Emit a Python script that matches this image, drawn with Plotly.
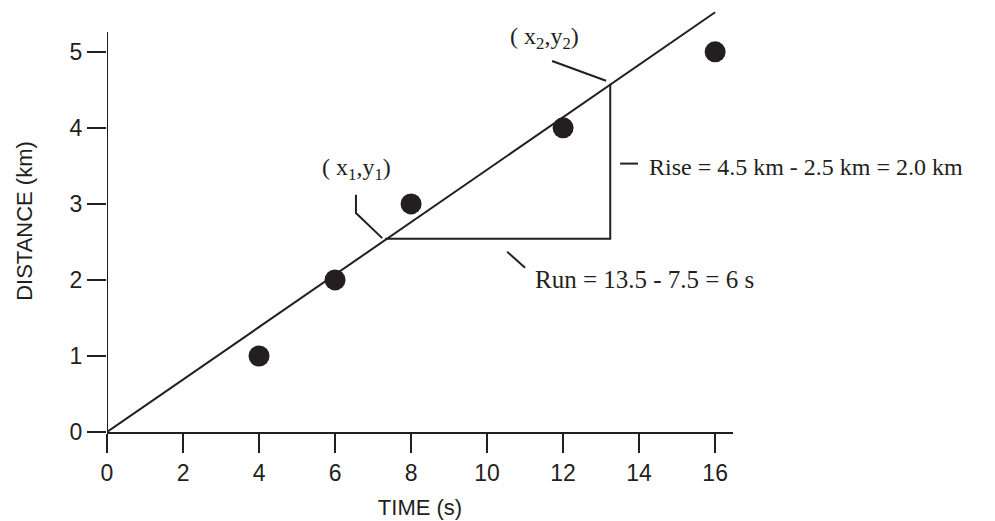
import plotly.graph_objects as go

# Data points
time_s = [4, 6, 8, 12, 16]
distance_km = [1, 2, 3, 4, 5]

# Best-fit line
fit_x = [0, 16]
fit_y = [0, 5.52]

# Rise / run triangle corners
x1, y1 = 7.32, 2.54
x2, y2 = 13.24, 4.58

x_ticks = [0, 2, 4, 6, 8, 10, 12, 14, 16]
y_ticks = [0, 1, 2, 3, 4, 5]

INK = "#231f20"
SANS = "Liberation Sans, Arial, sans-serif"
SERIF = "Liberation Serif, Times New Roman, serif"

Y_AXIS_TOP = 5.26

fig = go.Figure()
fig.add_trace(go.Scatter(x=fit_x, y=fit_y, mode="lines",
                         line=dict(color=INK, width=2), cliponaxis=False,
                         showlegend=False, hoverinfo="skip"))
fig.add_trace(go.Scatter(x=[x1, x2, x2], y=[y1, y1, y2], mode="lines",
                         line=dict(color=INK, width=2), cliponaxis=False,
                         showlegend=False, hoverinfo="skip"))
fig.add_trace(go.Scatter(x=time_s, y=distance_km, mode="markers",
                         marker=dict(color=INK, size=21), cliponaxis=False,
                         showlegend=False))

line_style = dict(color=INK, width=2)
# y axis line (shorter than the plotting range)
fig.add_shape(type="line", xref="x", yref="y", x0=0, x1=0, y0=0, y1=Y_AXIS_TOP,
              line=line_style)
# leader for (x1,y1)
fig.add_shape(type="path", xref="x", yref="y",
              path=f"M {x1-0.77},{y1+0.58} L {x1-0.77},{y1+0.34} L {x1-0.08},{y1+0.01}",
              line=line_style)
# leader for (x2,y2)
fig.add_shape(type="line", xref="x", yref="y",
              x0=x2-1.53, y0=y2+0.30, x1=x2-0.11, y1=y2+0.04, line=line_style)
# rise dash
fig.add_shape(type="line", xref="x", yref="y",
              x0=x2+0.26, y0=3.53, x1=x2+0.73, y1=3.53, line=line_style)
# run slash
fig.add_shape(type="line", xref="x", yref="y",
              x0=10.53, y0=y1-0.17, x1=11.0, y1=y1-0.38, line=line_style)

serif_font = dict(family=SERIF, size=24, color=INK)
fig.add_annotation(x=x1-0.75, y=y1+0.92, xref="x", yref="y",
                   text="( x<sub>1</sub>,y<sub>1</sub>)", showarrow=False,
                   font=serif_font)
fig.add_annotation(x=x2-1.72, y=y2+0.60, xref="x", yref="y",
                   text="( x<sub>2</sub>,y<sub>2</sub>)", showarrow=False,
                   font=serif_font)
fig.add_annotation(x=x2+0.98, y=3.49, xref="x", yref="y", xanchor="left",
                   text="Rise = 4.5 km - 2.5 km = 2.0 km", showarrow=False,
                   font=serif_font)
fig.add_annotation(x=11.22, y=2.0, xref="x", yref="y", xanchor="left",
                   text="Run = 13.5 - 7.5 = 6 s", showarrow=False,
                   font=dict(family=SERIF, size=25, color=INK))

axis_common = dict(linecolor=INK, linewidth=2,
                   ticks="outside", ticklen=19, tickwidth=2, tickcolor=INK,
                   showgrid=False, zeroline=False,
                   tickfont=dict(family=SANS, size=23, color=INK))

fig.update_xaxes(range=[0, 16.47], tickvals=x_ticks, showline=True,
                 ticktext=[str(v) for v in x_ticks],
                 title=dict(text="TIME (s)", font=dict(family=SANS, size=22, color=INK),
                            standoff=15),
                 **axis_common)
fig.update_yaxes(range=[0, 5.55], tickvals=y_ticks, showline=False,
                 ticktext=[str(v) for v in y_ticks],
                 title=dict(text="DISTANCE (km)", font=dict(family=SANS, size=22, color=INK),
                            standoff=30),
                 **axis_common)

fig.update_layout(width=995, height=521,
                  margin=dict(l=99, r=270, t=2, b=97, autoexpand=False),
                  plot_bgcolor="white", paper_bgcolor="white")

fig.write_html("out.html")
